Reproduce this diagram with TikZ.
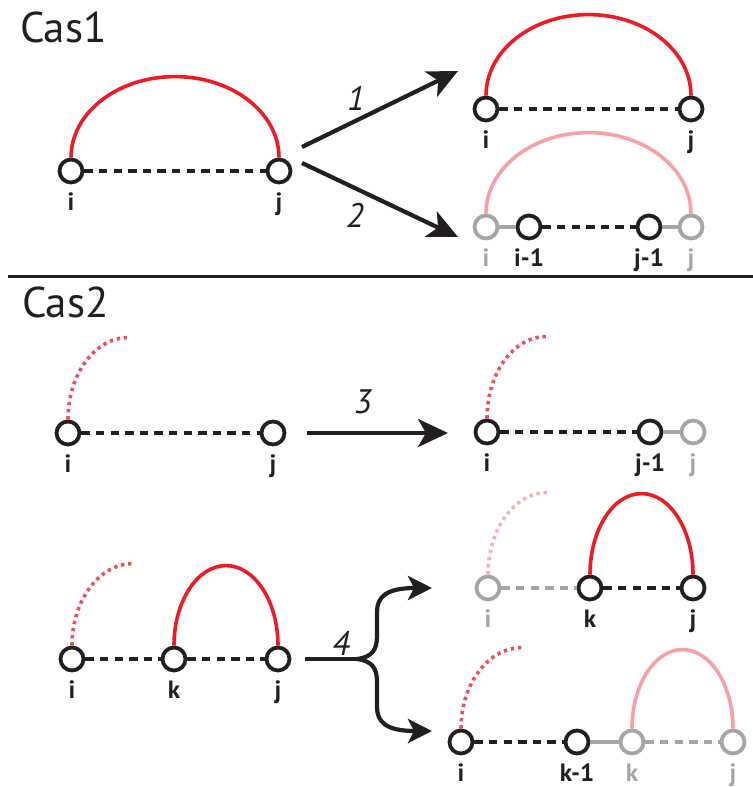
\documentclass[tikz,border=0pt]{standalone}
\usepackage{fontspec}
\setmainfont{PT Sans}
\usetikzlibrary{arrows.meta}
\definecolor{ink}{HTML}{231F20}
\definecolor{arcred}{HTML}{ED1C24}
\definecolor{arcpink}{HTML}{F6A2A5}
\definecolor{dotred}{HTML}{EF4F59}
\definecolor{dotpink}{HTML}{F8B2B5}
\definecolor{fade}{HTML}{A5A5A5}
\begin{document}
\begin{tikzpicture}[x=0.5pt, y=-0.5pt,
    vert/.style 2 args={circle, draw=#1, fill=white, line width=1.9pt, minimum size=11.5pt, inner sep=0pt,
      label={[anchor=base, label distance=12.8pt, text=#1, font=\fontsize{12.5}{14}\selectfont\bfseries]below:#2}},
    chain/.style={ink, line width=1.9pt, dash pattern=on 4.2pt off 3.1pt},
    link/.style={fade, line width=1.9pt},
    bond/.style={arcred, line width=1.8pt},
    open/.style={dotred, line width=1.8pt, dash pattern=on 1.7pt off 1.9pt},
    arr/.style={ink, line width=2.1pt, -{Stealth[length=15pt, width=14pt, inset=4pt]}},
    arrs/.style={ink, line width=2.1pt, -{Stealth[length=12pt, width=12pt, inset=3pt]}},
    num/.style={text=ink, font=\fontsize{17}{20}\selectfont\itshape},
    title/.style={anchor=base west, text=ink, font=\fontsize{21.5}{24}\selectfont}]
  \useasboundingbox (0,0) rectangle (753,787);

  % Cas 1
  \node[title] (cas1) at (13,42) {Cas1};
  \node[vert={ink}{i}] (ai) at (71,171) {};
  \node[vert={ink}{j}] (aj) at (279,171) {};
  \draw[chain] (ai) -- (aj);
  \draw[bond] (ai.north) arc[start angle=180, end angle=0, x radius=52pt, y radius=40.5pt];

  \coordinate (s1) at (302,147); \coordinate (t1) at (458,71);
  \coordinate (s2) at (302,163); \coordinate (t2) at (458,237);
  \draw[arr] (s1) -- (t1);
  \draw[arr] (s2) -- (t2);
  \node[num] (n1) at (356,98) {1};
  \node[num] (n2) at (355,215) {2};

  \node[vert={ink}{i}] (bi) at (486,109) {};
  \node[vert={ink}{j}] (bj) at (691,109) {};
  \draw[chain] (bi) -- (bj);
  \draw[bond] (bi.north) arc[start angle=180, end angle=0, x radius=51.25pt, y radius=40.5pt];

  \node[vert={fade}{i}] (ci) at (486,227) {};
  \node[vert={ink}{i-1}] (ci1) at (529,227) {};
  \node[vert={ink}{j-1}] (cj1) at (649,227) {};
  \node[vert={fade}{j}] (cj) at (691,227) {};
  \draw[link] (ci) -- (ci1);
  \draw[chain] (ci1) -- (cj1);
  \draw[link] (cj1) -- (cj);
  \draw[bond, arcpink] (ci.north) arc[start angle=180, end angle=0, x radius=51.25pt, y radius=40.5pt];

  \coordinate (l0) at (8,276); \coordinate (l1) at (753,276);
  \draw[ink, line width=1.5pt] (l0) -- (l1);

  % Cas 2
  \node[title] (cas2) at (15,317) {Cas2};
  \node[vert={ink}{i}] (di) at (68,433) {};
  \node[vert={ink}{j}] (dj) at (273,433) {};
  \draw[chain] (di) -- (dj);
  \draw[open] (di.north) arc[start angle=180, end angle=90, x radius=30pt, y radius=41pt];

  \coordinate (s3) at (307,433); \coordinate (t3) at (448,433);
  \draw[arr] (s3) -- (t3);
  \node[num] (n3) at (363,402) {3};

  \node[vert={ink}{i}] (ei) at (487,432) {};
  \node[vert={ink}{j-1}] (ej1) at (650,432) {};
  \node[vert={fade}{j}] (ej) at (693,432) {};
  \draw[chain] (ei) -- (ej1);
  \draw[link] (ej1) -- (ej);
  \draw[open] (ei.north) arc[start angle=180, end angle=90, x radius=29.5pt, y radius=41pt];

  \node[vert={ink}{i}] (fi) at (72,659) {};
  \node[vert={ink}{k}] (fk) at (174,659) {};
  \node[vert={ink}{j}] (fj) at (278,659) {};
  \draw[chain] (fi) -- (fk);
  \draw[chain] (fk) -- (fj);
  \draw[open] (fi.north) arc[start angle=180, end angle=90, x radius=30.5pt, y radius=41pt];
  \draw[bond] (fk.north) arc[start angle=180, end angle=0, x radius=26pt, y radius=40pt];

  \coordinate (s4) at (305,659); \coordinate (f4) at (357,659);
  \coordinate (t4a) at (432,588); \coordinate (t4b) at (432,731);
  \draw[ink, line width=2.1pt] (s4) -- (f4);
  \draw[arrs] (f4) .. controls (372,657) and (377,650) .. (377,636) -- (377,612) .. controls (377,597) and (386,588) .. (t4a);
  \draw[arrs] (f4) .. controls (372,661) and (377,668) .. (377,682) -- (377,707) .. controls (377,722) and (386,731) .. (t4b);
  \node[num] (n4) at (341,643) {4};

  \node[vert={fade}{i}] (gi) at (488,588) {};
  \node[vert={ink}{k}] (gk) at (590,588) {};
  \node[vert={ink}{j}] (gj) at (693,588) {};
  \draw[chain, fade] (gi) -- (gk);
  \draw[chain] (gk) -- (gj);
  \draw[open, dotpink] (gi.north) arc[start angle=180, end angle=90, x radius=29.5pt, y radius=41pt];
  \draw[bond] (gk.north) arc[start angle=180, end angle=0, x radius=25.75pt, y radius=40.5pt];

  \node[vert={ink}{i}] (hi) at (461,742) {};
  \node[vert={ink}{k-1}] (hk1) at (577,742) {};
  \node[vert={fade}{k}] (hk) at (632,742) {};
  \node[vert={fade}{j}] (hj) at (733,742) {};
  \draw[chain] (hi) -- (hk1);
  \draw[link] (hk1) -- (hk);
  \draw[chain, fade] (hk) -- (hj);
  \draw[open] (hi.north) arc[start angle=180, end angle=90, x radius=30.5pt, y radius=40.5pt];
  \draw[bond, arcpink] (hk.north) arc[start angle=180, end angle=0, x radius=25.25pt, y radius=39.5pt];
\end{tikzpicture}
\end{document}
